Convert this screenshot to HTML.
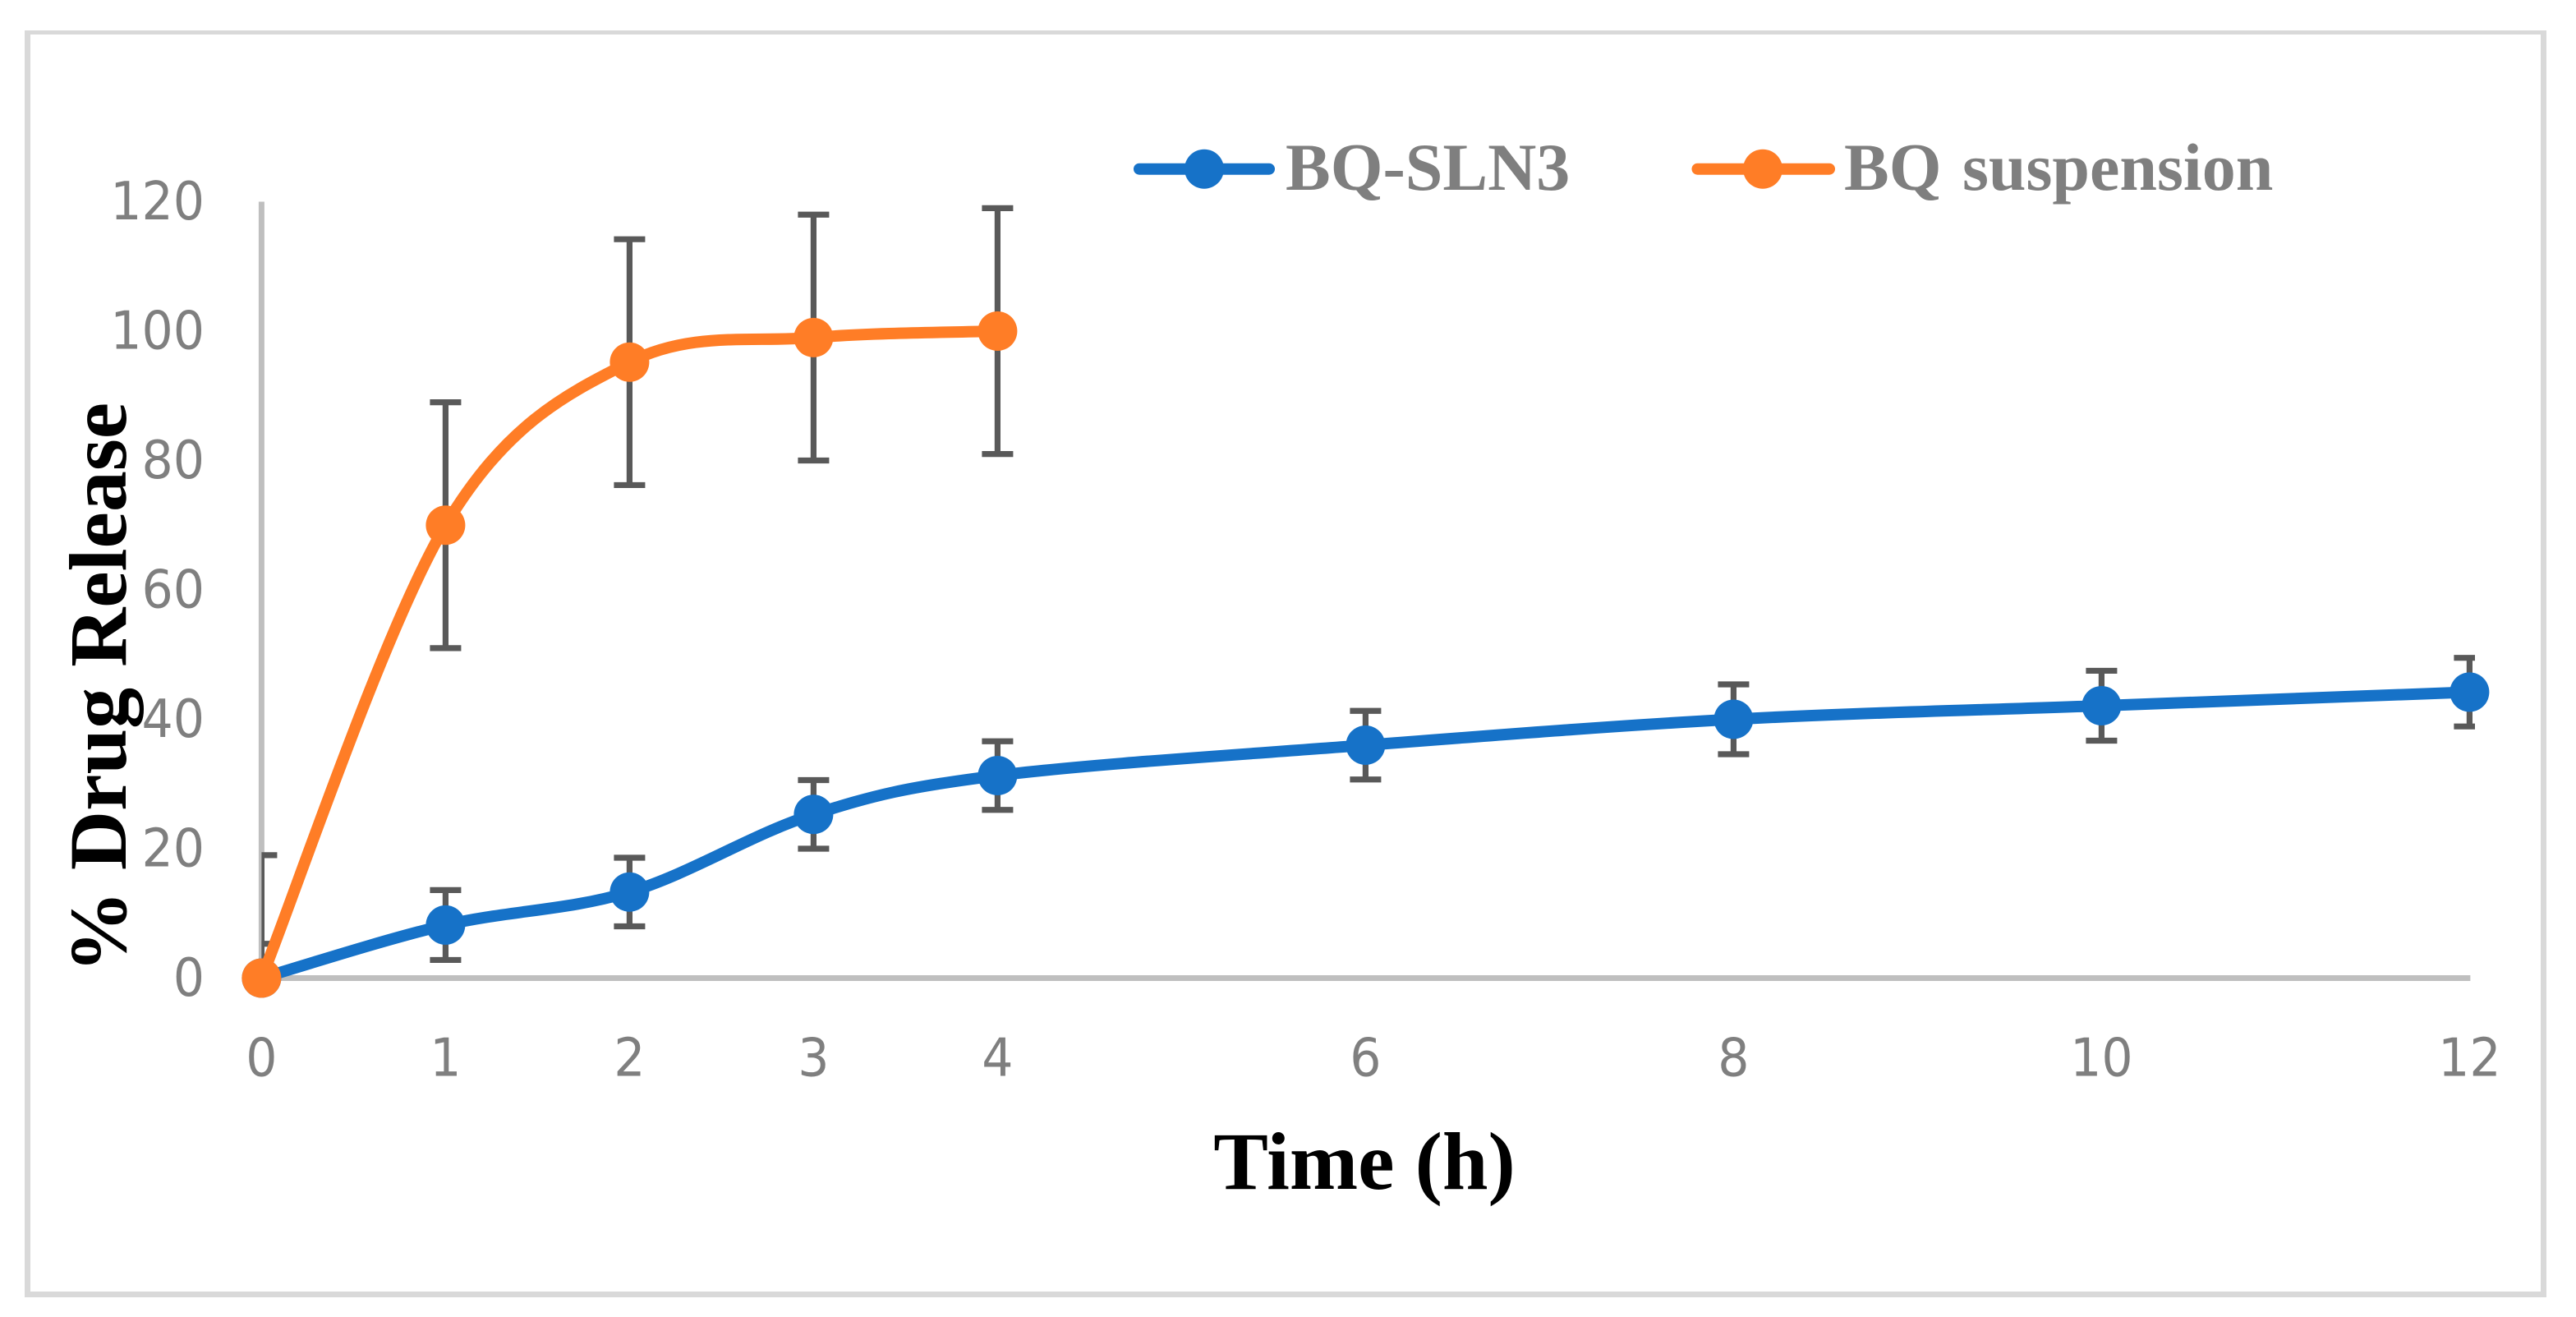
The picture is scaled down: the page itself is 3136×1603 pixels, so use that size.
<!DOCTYPE html>
<html lang="en">
<head>
<meta charset="utf-8">
<title>Drug release chart</title>
<style>
html,body{margin:0;padding:0;background:#fff;}
body{width:3136px;height:1603px;overflow:hidden;}
svg{display:block;}
.tick{font-family:"DejaVu Sans",sans-serif;fill:#7f7f7f;}
.title{font-family:"Liberation Serif",serif;font-weight:bold;fill:#000;font-size:100px;}
.legend-label{font-family:"Liberation Serif",serif;font-weight:bold;fill:#7f7f7f;font-size:82px;}
</style>
</head>
<body>
<svg id="chart" width="3136" height="1603" viewBox="0 0 3136 1603" xmlns="http://www.w3.org/2000/svg">
  <defs><clipPath id="plot-clip"><rect x="318.4" y="100" width="2694.6" height="1200"/></clipPath></defs>
  <rect x="0" y="0" width="3136" height="1603" fill="#fff"/>
  <path d="M30 37H3100V1579H30Z M37 42V1572H3093V42Z" fill="#d9d9d9" fill-rule="evenodd"/>
  <g id="axes"></g>
  <g id="y-ticks"></g>
  <g id="x-ticks"></g>
  <text class="title" transform="translate(153,837) rotate(-90)" text-anchor="middle">% Drug Release</text>
  <text class="title" x="1661" y="1447" text-anchor="middle">Time (h)</text>
  <g id="errors" clip-path="url(#plot-clip)"></g>
  <g id="series"></g>
  <g id="legend">
    <g>
      <line x1="1387" y1="205.7" x2="1545" y2="205.7" stroke="#1672c8" stroke-width="14" stroke-linecap="round"/>
      <circle cx="1466" cy="205.7" r="24" fill="#1672c8"/>
      <text class="legend-label" x="1565" y="231">BQ-SLN3</text>
    </g>
    <g>
      <line x1="2066.5" y1="205.7" x2="2227" y2="205.7" stroke="#ff7d26" stroke-width="14" stroke-linecap="round"/>
      <circle cx="2146" cy="205.7" r="24" fill="#ff7d26"/>
      <text class="legend-label" x="2245" y="231" word-spacing="5">BQ suspension</text>
    </g>
  </g>
</svg>
<script>
const xTicks = [0, 1, 2, 3, 4, 6, 8, 10, 12];
const yTicks = [0, 20, 40, 60, 80, 100, 120];
const slnTimes = [0, 1, 2, 3, 4, 6, 8, 10, 12];
const slnValues = [0, 8.2, 13.3, 25.3, 31.3, 36, 40, 42.1, 44.2];
const slnErrors = [5.3, 5.4, 5.3, 5.3, 5.3, 5.3, 5.4, 5.4, 5.3];
const suspTimes = [0, 1, 2, 3, 4];
const suspValues = [0, 70, 95.2, 99, 100];
const suspErrors = [19, 19, 19, 19, 19];

const NS = 'http://www.w3.org/2000/svg';
function sx(t) { return 318.4 + t * 224; }
function sy(v) { return 1190.5 - v * 7.875; }

function make(tag, attrs, parent) {
  const el = document.createElementNS(NS, tag);
  for (const k in attrs) el.setAttribute(k, attrs[k]);
  parent.appendChild(el);
  return el;
}

const axes = document.getElementById('axes');
const yAxis = make('line', {x1: sx(0), x2: sx(0), y1: sy(120), y2: sy(0) + 3, stroke: '#bfbfbf', 'stroke-width': 7}, axes);


const xAxis = make('line', {x1: sx(0) - 3, x2: sx(12) + 1, y1: sy(0), y2: sy(0), stroke: '#bfbfbf', 'stroke-width': 7}, axes);



const yTickGroup = document.getElementById('y-ticks');
yTicks.forEach(function (v) {
  const t = make('text', {class: 'tick', 'font-size': 64, 'text-anchor': 'end', transform: 'translate(249,' + (sy(v) + 21.5) + ') scale(0.94,1)'}, yTickGroup);
  t.textContent = String(v);
  
  
});

const xTickGroup = document.getElementById('x-ticks');
xTicks.forEach(function (v) {
  const t = make('text', {class: 'tick', 'font-size': 64, 'text-anchor': 'middle', transform: 'translate(' + sx(v) + ',1309.5) scale(0.94,1)'}, xTickGroup);
  t.textContent = String(v);
  
  
});

function smoothPath(xs, ys) {
  const pts = xs.map(function (x, i) { return [sx(x), sy(ys[i])]; });
  let d = 'M' + pts[0][0] + ' ' + pts[0][1];
  for (let i = 0; i < pts.length - 1; i++) {
    const p0 = pts[Math.max(i - 1, 0)], p1 = pts[i], p2 = pts[i + 1], p3 = pts[Math.min(i + 2, pts.length - 1)];
    const c1x = p1[0] + (p2[0] - p0[0]) / 6, c1y = p1[1] + (p2[1] - p0[1]) / 6;
    const c2x = p2[0] - (p3[0] - p1[0]) / 6, c2y = p2[1] - (p3[1] - p1[1]) / 6;
    d += 'C' + c1x + ' ' + c1y + ' ' + c2x + ' ' + c2y + ' ' + p2[0] + ' ' + p2[1];
  }
  return d;
}

function drawErrors(xs, ys, errs) {
  const g = document.getElementById('errors');
  xs.forEach(function (x, i) {
    const px = sx(x), hi = sy(ys[i] + errs[i]), lo = sy(Math.max(ys[i] - errs[i], 0));
    const b = make('path', {d: 'M' + px + ' ' + hi + 'V' + lo + 'M' + (px - 19) + ' ' + hi + 'H' + (px + 19) + 'M' + (px - 19) + ' ' + lo + 'H' + (px + 19), fill: 'none', stroke: '#595959', 'stroke-width': 7.2}, g);
    
    
  });
}

function drawSeries(xs, ys, color, name) {
  const g = document.getElementById('series');
  const line = make('path', {d: smoothPath(xs, ys), fill: 'none', stroke: color, 'stroke-width': 14, 'stroke-linejoin': 'round', 'stroke-linecap': 'round'}, g);
  
  
  xs.forEach(function (x, i) {
    const c = make('circle', {cx: sx(x), cy: sy(ys[i]), r: 24, fill: color}, g);
    
    
  });
}

drawErrors(slnTimes, slnValues, slnErrors);
drawErrors(suspTimes, suspValues, suspErrors);
drawSeries(slnTimes, slnValues, '#1672c8', 'bq-sln3');
drawSeries(suspTimes, suspValues, '#ff7d26', 'bq-suspension');
</script>
</body>
</html>
